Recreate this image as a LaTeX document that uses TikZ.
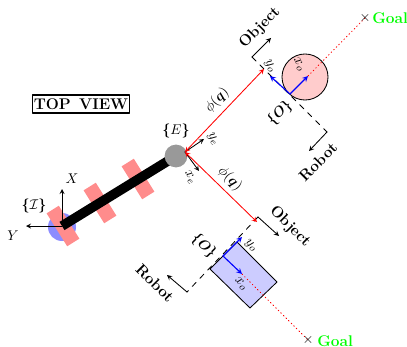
\documentclass[tikz,border=0pt]{standalone}
\usepackage{amsmath,amssymb}
\usetikzlibrary{arrows.meta}
\newcommand{\labelsize}{\fontsize{11}{13}\selectfont}
\tikzset{
	joint/.style={fill=red!45, minimum width=0.97cm, minimum height=0.36cm, inner sep=0pt, rotate=122},
	side/.style={font=\labelsize\bfseries},
	goal/.style={font=\labelsize\bfseries, text=green, inner sep=0pt},
	frame/.style={->, thick, blue},
	reach/.style={<->, red, semithick},
	push/.style={->, semithick},
	cut/.style={dash pattern=on 4pt off 4pt, semithick},
}
\begin{document}
\begin{tikzpicture}[x=0.025cm, y=-0.025cm, font=\normalsize, line join=round, line cap=round,>=stealth]
	\useasboundingbox (0,0) rectangle (407,347);
	% Tay robot
	\fill[blue!45] (62,227) circle (14);
	\node[joint] (j1) at (63,226) {};
	\node[joint] (j2) at (100,203) {};
	\node[joint] (j3) at (138,179) {};
	\coordinate (B) at (62,226);
	\coordinate (Etip) at (176,156);
	\draw[line width=0.24cm, line cap=butt] (B) -- (Etip);
	\node[circle, fill=gray!80, minimum size=0.57cm, inner sep=0pt] (E) at (Etip) {};
	\coordinate (X) at (62,189);
	\coordinate (Y) at (26,226);
	\draw[->, semithick] (B) -- (X);
	\draw[->, semithick] (B) -- (Y);
	\node (lX) at (72,179) {$X$};
	\node (lY) at (13,236) {$Y$};
	\node (lI) at (34,206) {$\boldsymbol{\{}\mathcal{I}\boldsymbol{\}}$};
	\node (lE) at (176,131) {$\boldsymbol{\{}E\boldsymbol{\}}$};
	\node[draw, thick, minimum width=2.4cm, minimum height=0.45cm, inner sep=1pt, font=\labelsize\bfseries] (title) at (81,104) {TOP\, VIEW};
	% Khung E
	\coordinate (Ee) at (185,152);
	\coordinate (ye) at (204,139);
	\coordinate (xe) at (199,171);
	\draw[->, semithick] (Ee) -- (ye);
	\draw[->, semithick] (Ee) -- (xe);
	\node[rotate=-60] (lye) at (213,139) {$y_e$};
	\node[rotate=-60] (lxe) at (190,178) {$x_e$};
	% Vat tron
	\coordinate (Ot) at (290,94);
	\coordinate (Pt) at (264,69);
	\coordinate (Ct) at (252,57);
	\coordinate (Dt) at (327,132);
	\coordinate (Gt) at (365,18);
	\draw[cut] (Ct) -- (Dt);
	\node[circle, draw, semithick, fill=red!20, minimum size=1.15cm, inner sep=0pt] (disk) at (305,77) {};
	\draw[dotted, red, semithick] (308,76) -- (Gt);
	\node[inner sep=0pt] (xt) at (Gt) {$\times$};
	\node[goal, anchor=west] (goalt) at (372,18) {Goal};
	\draw[frame] (Ot) -- (308,76);
	\draw[frame] (Ot) -- (270,76);
	\node[rotate=-60] (lxt) at (299,65) {$x_o$};
	\node[rotate=-60] (lyt) at (270,66) {$y_o$};
	\node[rotate=45] (lOt) at (280,113) {$\boldsymbol{\{O\}}$};
	\draw[push] (Ct) -- (271,38);
	\draw[push] (Dt) -- (309,151);
	\node[side, rotate=45] (objt) at (260,28) {Object};
	\node[side, rotate=45] (robt) at (318,162) {Robot};
	% Vat chu nhat
	\coordinate (Ob) at (223,256);
	\coordinate (Cb) at (258,217);
	\coordinate (Db) at (187,292);
	\coordinate (Pb) at (257,222);
	\coordinate (Gb) at (308,340);
	\draw[cut] (Cb) -- (Db);
	\draw[semithick, fill=blue!20] (210,269) -- (237,242) -- (277,282) -- (250,308) -- cycle;
	\draw[dotted, red, semithick] (242,274) -- (Gb);
	\node[inner sep=0pt] (xb) at (Gb) {$\times$};
	\node[goal, anchor=west] (goalb) at (317,341) {Goal};
	\draw[frame] (Ob) -- (242,274);
	\draw[frame] (Ob) -- (242,237);
	\node[rotate=-45] (lxb) at (241,284) {$x_o$};
	\node[rotate=-45] (lyb) at (251,246) {$y_o$};
	\node[rotate=-45] (lOb) at (204,246) {$\boldsymbol{\{O\}}$};
	\draw[push] (Cb) -- (279,236);
	\draw[push] (Db) -- (167,275);
	\node[side, rotate=-45] (objb) at (290,227) {Object};
	\node[side, rotate=-45] (robb) at (155,283) {Robot};
	% Khoang cach
	\draw[reach] (Ee) -- (Pt);
	\draw[reach] (Ee) -- (Pb);
	\node[rotate=45] (lphit) at (217,100) {$\phi(\boldsymbol{q})$};
	\node[rotate=-45] (lphib) at (230,179) {$\phi(\boldsymbol{q})$};
\end{tikzpicture}
\end{document}
